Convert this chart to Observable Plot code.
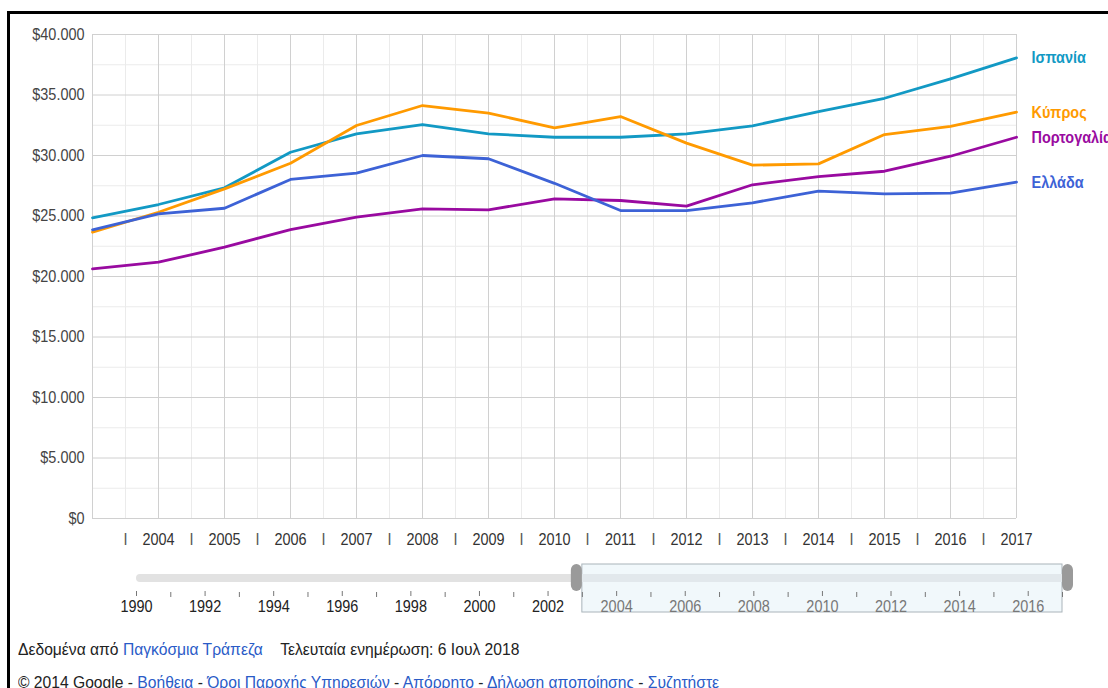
<!DOCTYPE html>
<html>
<head>
<meta charset="utf-8">
<script src="https://cdn.jsdelivr.net/npm/d3@7"></script>
<script src="https://cdn.jsdelivr.net/npm/@observablehq/plot@0.6"></script>
<style>
  body { margin: 0; background: #fff; }
  #frame { position: relative; width: 1108px; height: 688px; overflow: hidden; background: #fff;
           font-family: 'Liberation Sans', Arial, sans-serif; }
  #border { position: absolute; left: 7px; top: 11px; width: 1300px; height: 900px;
            border-left: 3px solid #000; border-top: 3px solid #000; }
  #main { position: absolute; left: 0; top: 0; }
  #slider { position: absolute; left: 0; top: 555px; }
  .foot { position: absolute; left: 18px; font-size: 17px; color: #222; white-space: nowrap;
          transform: scaleX(0.92); transform-origin: left top; }
  .foot a { color: #2a5bc7; text-decoration: none; }
</style>
</head>
<body>
<div id="frame">
  <div id="border"></div>
  <div id="main"></div>
  <div id="slider"></div>
  <div class="foot" id="f1" style="top:640px"></div>
  <div class="foot" id="f2" style="top:673px"></div>
</div>
<script>
// ---------- data ----------
const years = [2003, 2004, 2005, 2006, 2007, 2008, 2009, 2010, 2011, 2012, 2013, 2014, 2015, 2016, 2017];
const seriesNames = ["Ισπανία", "Κύπρος", "Πορτογαλία", "Ελλάδα"];
const spain    = [24850, 25950, 27330, 30270, 31790, 32560, 31790, 31510, 31510, 31790, 32450, 33630, 34730, 36340, 38070];
const cyprus   = [23660, 25310, 27240, 29360, 32480, 34130, 33500, 32290, 33220, 31020, 29200, 29310, 31730, 32400, 33580];
const portugal = [20630, 21180, 22420, 23880, 24900, 25590, 25510, 26420, 26280, 25810, 27580, 28260, 28700, 29940, 31510];
const greece   = [23860, 25180, 25640, 28020, 28540, 30000, 29730, 27700, 25450, 25450, 26090, 27050, 26830, 26890, 27800];
const yTicks = [0, 5000, 10000, 15000, 20000, 25000, 30000, 35000, 40000];
const yMinor = [2500, 7500, 12500, 17500, 22500, 27500, 32500, 37500];
const xLabels = [2004, 2005, 2006, 2007, 2008, 2009, 2010, 2011, 2012, 2013, 2014, 2015, 2016, 2017];
const xHalf = [2003.5, 2004.5, 2005.5, 2006.5, 2007.5, 2008.5, 2009.5, 2010.5, 2011.5, 2012.5, 2013.5, 2014.5, 2015.5, 2016.5];
const sliderYears = d3.range(1990, 2018);
const sliderLabels = [1990, 1992, 1994, 1996, 1998, 2000, 2002, 2004, 2006, 2008, 2010, 2012, 2014, 2016];
const sliderRange = [1990, 2017];
const selectedRange = [2003, 2017];
const colors = {"Ισπανία": "#1299c4", "Κύπρος": "#ff9a00", "Πορτογαλία": "#990aa0", "Ελλάδα": "#3d62d6"};

const font = "'Liberation Sans', Arial, sans-serif";
const valuesBy = [spain, cyprus, portugal, greece];
const rows = [];
seriesNames.forEach((name, i) => years.forEach((yr, j) => rows.push({country: name, year: yr, value: valuesBy[i][j]})));
const lastRows = seriesNames.map((name, i) => ({country: name, year: years[years.length - 1], value: valuesBy[i][years.length - 1]}));
const fmt = d => "$" + d3.format(",")(d).replace(/,/g, ".");

// condense text horizontally around its anchor (reference text is narrow)
function squeeze(svg, k) {
  svg.querySelectorAll("text").forEach(t => {
    const tr = t.getAttribute("transform") || "";
    t.setAttribute("transform", tr + ` scale(${k},1)`);
  });
}

const main = Plot.plot({
  width: 1108, height: 555,
  marginLeft: 92, marginRight: 92, marginTop: 34, marginBottom: 37,
  style: {fontFamily: font, background: "transparent", overflow: "visible"},
  x: {domain: [years[0], years[years.length - 1]]},
  y: {domain: [0, 40000]},
  marks: [
    Plot.ruleY(yMinor, {stroke: "#ebebeb", strokeWidth: 1}),
    Plot.ruleX(xHalf, {stroke: "#ebebeb", strokeWidth: 1}),
    Plot.ruleY(yTicks, {stroke: "#d0d0d0", strokeWidth: 1}),
    Plot.ruleX(years, {stroke: "#d0d0d0", strokeWidth: 1}),
    Plot.axisY({ticks: yTicks, tickSize: 0, tickPadding: 8, tickFormat: fmt, fontSize: 17, fill: "#444", label: null}),
    Plot.axisX({ticks: xLabels, tickSize: 0, tickPadding: 14, tickFormat: d => String(d), fontSize: 17, fill: "#333", label: null}),
    Plot.axisX({ticks: xHalf, tickSize: 0, tickPadding: 14, tickFormat: () => "I", fontSize: 17, fill: "#555", label: null}),
    Plot.line(rows, {x: "year", y: "value", z: "country", stroke: d => colors[d.country], strokeWidth: 2.8, curve: "linear"}),
    Plot.text(lastRows, {x: "year", y: "value", text: "country", fill: d => colors[d.country], dx: 15, textAnchor: "start", fontWeight: "bold", fontSize: 17})
  ]
});
squeeze(main, 0.85);
document.getElementById("main").appendChild(main);

const slider = Plot.plot({
  width: 1108, height: 70,
  marginLeft: 136, marginRight: 46, marginTop: 0, marginBottom: 0,
  style: {fontFamily: font, background: "transparent", overflow: "visible"},
  x: {domain: sliderRange, axis: null},
  y: {domain: [0, 70], range: [0, 70], axis: null},
  marks: [
    Plot.rect([selectedRange], {x1: d => d[0], x2: d => d[1], y1: 9, y2: 57, fill: "#f1f8fb", stroke: "#aab4ba", strokeWidth: 1}),
    Plot.rect([sliderRange], {x1: d => d[0], x2: () => selectedRange[0], y1: 19, y2: 27, fill: "#e2e2e2", rx: 4}),
    Plot.rect([selectedRange], {x1: d => d[0], x2: d => d[1], y1: 19, y2: 27, fill: "#e2e8ec"}),
    Plot.ruleX(sliderYears.filter(y => y % 2 === 1), {y1: 37, y2: 42, stroke: "#777"}),
    Plot.ruleX(sliderLabels, {y1: 36, y2: 41, stroke: "#777"}),
    Plot.text(sliderLabels, {x: d => d, y: 51, text: d => String(d), fontSize: 17, fill: d => d >= selectedRange[0] ? "#777" : "#222"}),
    Plot.rect([selectedRange[0]], {x1: d => d, x2: d => d, y1: 9, y2: 36, insetLeft: -11, rx: 6, fill: "#9a9a9a"}),
    Plot.rect([selectedRange[1]], {x1: d => d, x2: d => d, y1: 9, y2: 36, insetRight: -11, rx: 6, fill: "#9a9a9a"})
  ]
});
squeeze(slider, 0.85);
document.getElementById("slider").appendChild(slider);

document.getElementById("f1").innerHTML = 'Δεδομένα από <a>Παγκόσμια Τράπεζα</a>&nbsp;&nbsp;&nbsp;&nbsp;Τελευταία ενημέρωση: 6 Ιουλ 2018';
document.getElementById("f2").innerHTML = '© 2014 Google - <a>Βοήθεια</a> - <a>Όροι Παροχής Υπηρεσιών</a> - <a>Απόρρητο</a> - <a>Δήλωση αποποίησης</a> - <a>Συζητήστε</a>';
</script>
</body>
</html>
